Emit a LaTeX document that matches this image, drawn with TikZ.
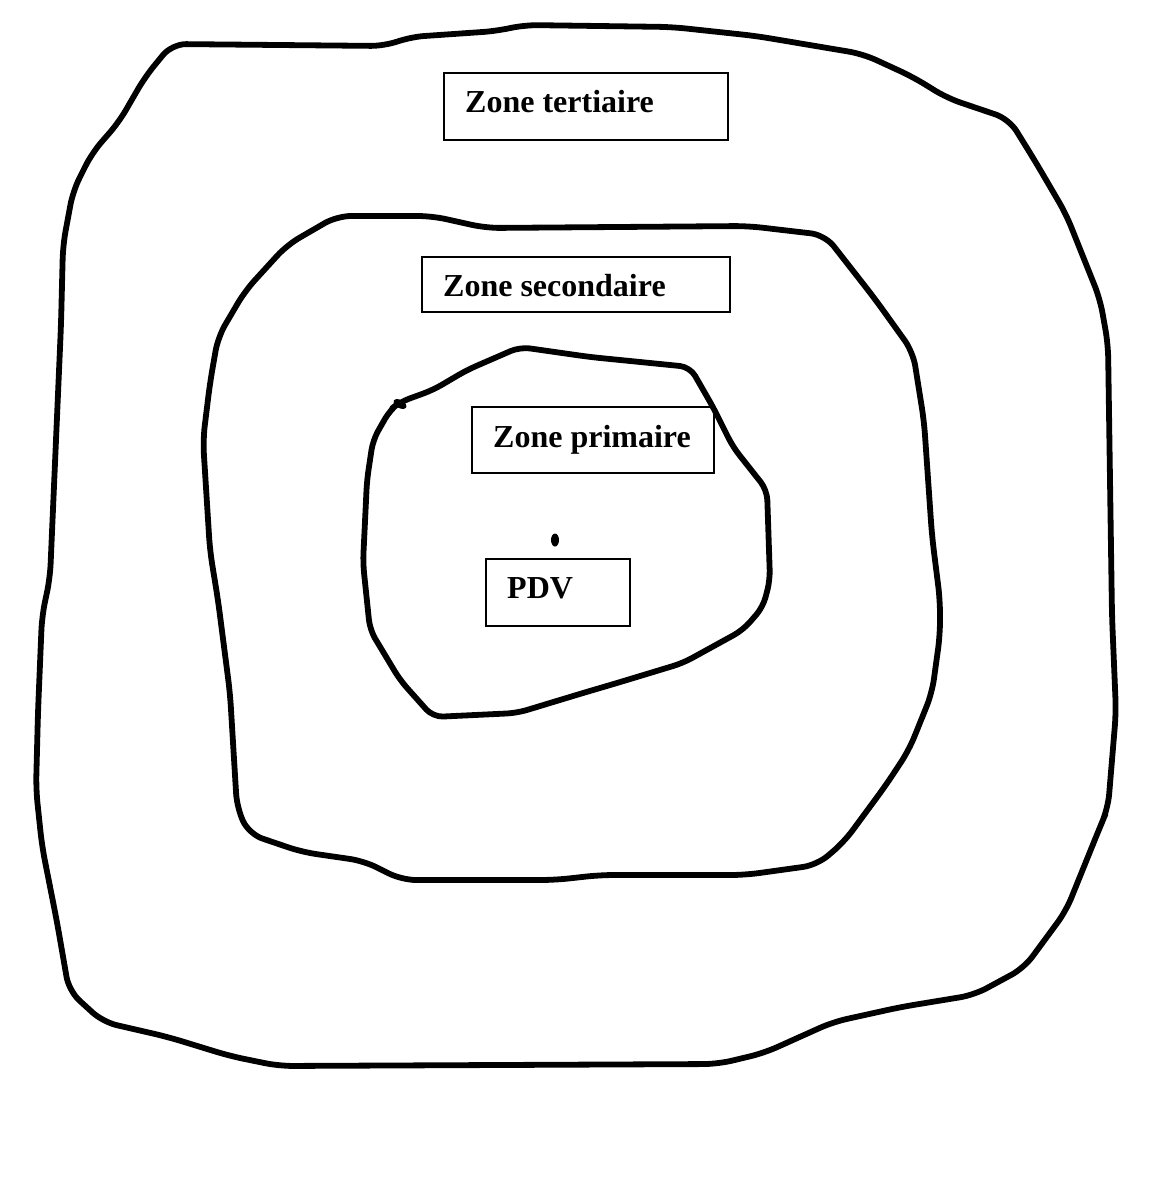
\documentclass[tikz,border=0pt]{standalone}
\usepackage{fontspec}
\setmainfont{Liberation Serif}
\begin{document}
\begin{tikzpicture}[x=1pt,y=-1pt,
  zone/.style={line width=5.8pt, line join=round, line cap=round, rounded corners=14pt},
  labelbox/.style={draw, line width=1.2pt, rectangle, inner sep=0pt},
  labeltext/.style={anchor=base west, inner sep=0pt, font=\fontsize{32}{38}\selectfont\bfseries}]
\useasboundingbox[fill=white] (0,0) rectangle (1157,1178);

% outer curve (zone tertiaire)
\draw[zone] (172,44) -- (385,46) -- (410,37) -- (497,31) -- (524,25) -- (672,27)
 -- (756,36) -- (863,54) -- (913,77) -- (947,98) -- (1009,119) -- (1035,161)
 -- (1066,214) -- (1100,299) -- (1108,344) -- (1110,480) -- (1112,616)
 -- (1116,712) -- (1108,808) -- (1100,827) -- (1066,911) -- (1024,968)
 -- (974,995) -- (901,1007) -- (833,1022) -- (764,1053) -- (718,1064)
 -- (279,1066) -- (230,1056) -- (168,1037) -- (103,1022) -- (69,991)
 -- (57,922) -- (42,846) -- (36,789) -- (38,712) -- (42,616) -- (50,578)
 -- (61,325) -- (63,245) -- (73,191) -- (92,153) -- (119,122) -- (145,77) -- cycle;

% middle curve (zone secondaire)
\draw[zone] (337,216) -- (432,216) -- (486,228) -- (748,226) -- (825,235)
 -- (875,299) -- (913,352) -- (924,421) -- (932,536) -- (940,600) -- (940,635)
 -- (932,693) -- (909,750) -- (886,785) -- (844,842) -- (817,865) -- (745,875)
 -- (600,875) -- (555,880) -- (402,880) -- (364,861) -- (302,852) -- (249,834)
 -- (237,808) -- (230,693) -- (218,600) -- (210,551) -- (203,440) -- (210,383)
 -- (218,337) -- (245,291) -- (287,245) -- cycle;

% inner curve (zone primaire)
\draw[zone, rounded corners=10pt] (520,347) -- (590,357) -- (690,367) -- (713,407)
 -- (733,447) -- (767,490) -- (770,580) -- (763,607) -- (743,630) -- (683,663)
 -- (617,683) -- (583,693) -- (517,713) -- (433,717) -- (400,680) -- (370,630)
 -- (363,563) -- (367,480) -- (373,440) -- (390,410) -- (400,402) -- (433,390)
 -- (467,370) -- cycle;
\fill[rotate around={-30:(400,404)}] (400,404) ellipse [x radius=7pt, y radius=4pt];

% point de vente
\fill (555,540) ellipse [x radius=4pt, y radius=6.5pt];

% label boxes
\node[labelbox, minimum width=284pt, minimum height=67pt] (tbox) at (586,106.5) {};
\node[labeltext] (ttext) at (465,112) {Zone tertiaire};
\node[labelbox, minimum width=308pt, minimum height=55pt] (sbox) at (576,284.5) {};
\node[labeltext] (stext) at (443,296) {Zone secondaire};
\node[labelbox, minimum width=242pt, minimum height=66pt] (pbox) at (593,440) {};
\node[labeltext] (ptext) at (493,447) {Zone primaire};
\node[labelbox, minimum width=144pt, minimum height=67pt] (vbox) at (558,592.5) {};
\node[labeltext] (vtext) at (507,598) {PDV};
\end{tikzpicture}
\end{document}
